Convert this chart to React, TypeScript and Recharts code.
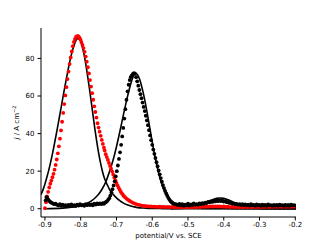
import React from 'react';
import { ComposedChart, Scatter, Line, XAxis, YAxis } from 'recharts';

// potential (V vs. SCE), current density j (A cm^-2)
const redPoints: [number, number][] = [
  [-0.9, 0.3], [-0.897, 3.5], [-0.894, 6.5], [-0.891, 9], [-0.888, 11.3], [-0.885, 13.3],
  [-0.882, 15], [-0.879, 16.8], [-0.876, 18.6], [-0.873, 20.8], [-0.87, 23.3], [-0.867, 26.2],
  [-0.864, 29.5], [-0.861, 33.2], [-0.858, 37.3], [-0.855, 41.7], [-0.852, 46.3], [-0.849, 51],
  [-0.846, 55.7], [-0.843, 60.3], [-0.84, 64.7], [-0.837, 69], [-0.834, 73], [-0.831, 77],
  [-0.828, 80.5], [-0.825, 83.7], [-0.822, 86.5], [-0.819, 88.8], [-0.816, 90.4], [-0.813, 91.4],
  [-0.81, 91.9], [-0.807, 91.8], [-0.804, 91.2], [-0.801, 90.2], [-0.798, 88.8], [-0.795, 87.2],
  [-0.792, 85.5], [-0.789, 83.5], [-0.786, 81], [-0.783, 78.3], [-0.78, 75.3], [-0.777, 72],
  [-0.774, 68.5], [-0.771, 65], [-0.768, 61.5], [-0.765, 58], [-0.762, 54.5], [-0.759, 51.5],
  [-0.756, 48.5], [-0.753, 45.5], [-0.75, 43.2], [-0.747, 41], [-0.744, 38.8], [-0.741, 36.6],
  [-0.738, 34.5], [-0.735, 32.5], [-0.733, 31], [-0.73, 29], [-0.727, 27.5], [-0.724, 26],
  [-0.721, 24.4], [-0.718, 22.8], [-0.715, 21.3], [-0.712, 19.8], [-0.709, 18.2], [-0.706, 16.6],
  [-0.703, 15.1], [-0.7, 13.7], [-0.697, 12.4], [-0.694, 11.2], [-0.691, 10.1], [-0.688, 9.1],
  [-0.685, 8.2], [-0.682, 7.4], [-0.679, 6.7], [-0.676, 6.1], [-0.672, 5.4], [-0.668, 4.8],
  [-0.664, 4.3], [-0.66, 3.8], [-0.655, 3.3], [-0.65, 2.9], [-0.645, 2.5], [-0.64, 2.2],
  [-0.634, 1.9], [-0.628, 1.7], [-0.622, 1.5], [-0.616, 1.35], [-0.61, 1.25], [-0.604, 1.2],
  [-0.598, 1.15], [-0.592, 1.1], [-0.586, 1.0], [-0.58, 1.05], [-0.574, 0.95], [-0.568, 1.0],
  [-0.562, 0.9], [-0.556, 1.0], [-0.55, 0.85], [-0.544, 0.95], [-0.538, 0.8], [-0.532, 0.9],
  [-0.526, 0.8], [-0.52, 0.9], [-0.514, 0.75], [-0.508, 0.85], [-0.502, 0.8], [-0.496, 0.9],
  [-0.49, 0.8], [-0.484, 0.95], [-0.478, 0.85], [-0.472, 1.0], [-0.466, 0.9], [-0.46, 1.1],
  [-0.454, 1.0], [-0.448, 1.2], [-0.442, 1.1], [-0.436, 1.3], [-0.43, 1.2], [-0.424, 1.3],
  [-0.418, 1.2], [-0.412, 1.3], [-0.406, 1.1], [-0.4, 1.2], [-0.394, 1.0], [-0.388, 1.1],
  [-0.382, 0.9], [-0.376, 1.0], [-0.37, 0.9], [-0.364, 1.0], [-0.358, 0.85], [-0.352, 0.95],
  [-0.346, 0.85], [-0.34, 1.0], [-0.334, 0.9], [-0.328, 1.0], [-0.322, 0.85], [-0.316, 1.0],
  [-0.31, 0.9], [-0.304, 1.05], [-0.298, 0.9], [-0.292, 1.0], [-0.286, 0.95], [-0.28, 1.1],
  [-0.274, 0.95], [-0.268, 1.05], [-0.262, 1.0], [-0.256, 1.1], [-0.25, 1.0], [-0.244, 1.15],
  [-0.238, 1.0], [-0.232, 1.1], [-0.226, 1.05], [-0.22, 1.15], [-0.214, 1.05], [-0.208, 1.2],
  [-0.202, 1.1],
];

const blackPoints: [number, number][] = [
  [-0.898, 4.5], [-0.896, 6.2], [-0.894, 5.8], [-0.891, 5], [-0.888, 4.2], [-0.885, 3.6],
  [-0.882, 3.2], [-0.878, 2.8], [-0.874, 2.4], [-0.87, 2.7], [-0.866, 2.1], [-0.862, 1.8],
  [-0.858, 2.4], [-0.854, 1.6], [-0.85, 2.2], [-0.846, 1.5], [-0.842, 1.9], [-0.838, 1.3],
  [-0.834, 2.0], [-0.83, 1.6], [-0.826, 2.3], [-0.822, 1.5], [-0.818, 1.9], [-0.814, 1.4],
  [-0.81, 2.2], [-0.806, 1.7], [-0.802, 2.5], [-0.798, 1.8], [-0.794, 2.1], [-0.79, 1.6],
  [-0.786, 2.4], [-0.782, 1.9], [-0.778, 2.6], [-0.774, 2.0], [-0.77, 2.3], [-0.766, 1.8],
  [-0.762, 2.7], [-0.758, 2.2], [-0.754, 2.9], [-0.75, 2.4], [-0.746, 2.8], [-0.742, 2.5],
  [-0.738, 3.0], [-0.735, 2.6], [-0.732, 3.2], [-0.729, 3.6], [-0.726, 4.1], [-0.723, 4.8],
  [-0.72, 5.6], [-0.717, 7.0], [-0.714, 8.6], [-0.711, 10.4], [-0.708, 12.4], [-0.705, 14.6],
  [-0.702, 17.2], [-0.699, 20], [-0.696, 23], [-0.693, 26.5], [-0.69, 30], [-0.687, 34],
  [-0.684, 38.5], [-0.681, 43], [-0.678, 48], [-0.675, 53], [-0.672, 58], [-0.669, 62.5],
  [-0.666, 66], [-0.663, 68.5], [-0.66, 70], [-0.657, 71], [-0.654, 71.8], [-0.651, 72.2],
  [-0.648, 71.9], [-0.645, 70], [-0.642, 67.8], [-0.639, 65.5], [-0.636, 63.2], [-0.633, 61],
  [-0.63, 58.8], [-0.627, 56.5], [-0.624, 54.2], [-0.621, 52], [-0.618, 49.5], [-0.615, 47],
  [-0.612, 44.5], [-0.609, 41.8], [-0.606, 39], [-0.603, 36.5], [-0.6, 34], [-0.597, 31.5],
  [-0.594, 29.2], [-0.591, 27], [-0.588, 24.8], [-0.585, 22.6], [-0.582, 20.4], [-0.579, 18.3],
  [-0.576, 16.3], [-0.573, 14.4], [-0.57, 12.6], [-0.567, 11], [-0.564, 9.5], [-0.561, 8.1],
  [-0.558, 6.9], [-0.555, 5.8], [-0.552, 4.9], [-0.549, 4.1], [-0.546, 3.5], [-0.543, 3.0],
  [-0.54, 2.7], [-0.536, 2.4], [-0.532, 2.3], [-0.528, 2.0], [-0.524, 2.6], [-0.52, 1.8],
  [-0.516, 2.4], [-0.512, 1.6], [-0.508, 2.2], [-0.504, 1.9], [-0.5, 2.7], [-0.496, 1.7],
  [-0.492, 2.3], [-0.488, 2.0], [-0.484, 2.8], [-0.48, 2.2], [-0.476, 2.5], [-0.472, 2.1],
  [-0.468, 2.9], [-0.464, 2.4], [-0.46, 3.0], [-0.456, 2.6], [-0.452, 3.3], [-0.448, 3.0],
  [-0.444, 3.6], [-0.44, 3.4], [-0.436, 3.9], [-0.432, 3.6], [-0.428, 4.2], [-0.424, 3.9],
  [-0.42, 4.4], [-0.416, 4.0], [-0.412, 4.5], [-0.408, 4.1], [-0.404, 4.3], [-0.4, 3.8],
  [-0.396, 4.0], [-0.392, 3.5], [-0.388, 3.6], [-0.384, 3.1], [-0.38, 3.2], [-0.376, 2.7],
  [-0.372, 2.9], [-0.368, 2.4], [-0.364, 2.6], [-0.36, 2.1], [-0.356, 2.5], [-0.352, 2.0],
  [-0.348, 2.4], [-0.344, 1.9], [-0.34, 2.3], [-0.336, 1.8], [-0.332, 2.2], [-0.328, 1.7],
  [-0.324, 2.4], [-0.32, 1.9], [-0.316, 2.1], [-0.312, 1.6], [-0.308, 2.3], [-0.304, 1.8],
  [-0.3, 2.0], [-0.296, 1.5], [-0.292, 2.2], [-0.288, 1.7], [-0.284, 2.0], [-0.28, 1.6],
  [-0.276, 2.3], [-0.272, 1.8], [-0.268, 1.9], [-0.264, 1.5], [-0.26, 2.1], [-0.256, 1.7],
  [-0.252, 2.0], [-0.248, 1.6], [-0.244, 2.2], [-0.24, 1.8], [-0.236, 1.9], [-0.232, 1.5],
  [-0.228, 2.1], [-0.224, 1.7], [-0.22, 2.0], [-0.216, 1.6], [-0.212, 2.2], [-0.208, 1.8],
  [-0.204, 1.9], [-0.2, 1.7],
];

// fitted peaks
const fitFirst: [number, number][] = [
  [-0.911, 7.5], [-0.905, 10.3], [-0.9, 13.2], [-0.895, 16.5], [-0.89, 20], [-0.885, 24],
  [-0.88, 28.3], [-0.875, 33], [-0.87, 38], [-0.865, 43], [-0.86, 48.3], [-0.855, 53.6],
  [-0.85, 59], [-0.845, 64.2], [-0.84, 69.3], [-0.835, 74.2], [-0.83, 78.8], [-0.825, 82.8],
  [-0.82, 86.2], [-0.815, 88.8], [-0.81, 90.4], [-0.807, 90.6], [-0.805, 90.4], [-0.8, 89],
  [-0.795, 85.8], [-0.79, 81.5], [-0.785, 76], [-0.78, 69.8], [-0.775, 63.2], [-0.77, 56.2],
  [-0.765, 49], [-0.76, 42], [-0.755, 35.6], [-0.75, 29.8], [-0.745, 24.8], [-0.74, 20.5],
  [-0.735, 17], [-0.73, 14.5], [-0.725, 12.5], [-0.72, 10.5], [-0.715, 9], [-0.71, 7.8],
  [-0.7, 5.8], [-0.69, 4.2], [-0.68, 3], [-0.67, 2.1], [-0.66, 1.5], [-0.65, 1.0],
  [-0.64, 0.6], [-0.625, 0.35], [-0.61, 0.2], [-0.58, 0.1], [-0.55, 0], [-0.198, 0],
];

const fitSecond: [number, number][] = [
  [-0.9, 0], [-0.85, 0.3], [-0.82, 1], [-0.8, 1.7], [-0.79, 2.3], [-0.78, 3.1],
  [-0.77, 4.2], [-0.76, 5.7], [-0.75, 7.7], [-0.74, 10.5], [-0.73, 14.2], [-0.72, 19.5],
  [-0.71, 25.5], [-0.7, 33], [-0.69, 41.5], [-0.68, 50.5], [-0.67, 59], [-0.66, 66.5],
  [-0.655, 69.5], [-0.65, 71.5], [-0.645, 72], [-0.64, 71], [-0.635, 68.8], [-0.63, 65.5],
  [-0.625, 61.5], [-0.62, 57], [-0.615, 52], [-0.61, 46.5], [-0.605, 41], [-0.6, 35.5],
  [-0.595, 30.3], [-0.59, 25.5], [-0.585, 21.2], [-0.58, 17.4], [-0.575, 14.2], [-0.57, 11.5],
  [-0.565, 9.3], [-0.56, 7.5], [-0.55, 4.9], [-0.54, 3.2], [-0.53, 2.2], [-0.52, 1.5],
  [-0.5, 0.8], [-0.48, 0.4], [-0.45, 0.2], [-0.4, 0.1], [-0.3, 0], [-0.198, 0],
];

const fitThird: [number, number][] = [
  [-0.55, 0], [-0.5, 0.4], [-0.48, 1.4], [-0.47, 2], [-0.46, 2.6], [-0.45, 3.3],
  [-0.44, 4.1], [-0.43, 4.9], [-0.42, 5.5], [-0.41, 5.7], [-0.4, 5.5], [-0.39, 4.9],
  [-0.38, 4.1], [-0.37, 3.2], [-0.36, 2.4], [-0.35, 1.7], [-0.34, 1.1], [-0.32, 0.5],
  [-0.3, 0.2], [-0.25, 0], [-0.198, 0],
];

const xTicks = [-0.9, -0.8, -0.7, -0.6, -0.5, -0.4, -0.3, -0.2];
const yTicks = [0, 20, 40, 60, 80];

const rows = (pts: [number, number][]) => pts.map(([v, j]) => ({ v, j }));

const dot = (color: string) => (props: any) => (
  <circle cx={props.cx} cy={props.cy} r={1.9} fill={color} />
);

const font = 'DejaVu Sans, sans-serif';

const App = () => {
  return (
    <div style={{ position: 'fixed', left: 0, top: 0, background: '#fff' }}>
      <ComposedChart width={328} height={245} margin={{ top: 28, right: 32, bottom: 0, left: 0 }}>
        <XAxis
          dataKey="v"
          type="number"
          domain={[-0.911, -0.198]}
          allowDataOverflow
          ticks={xTicks}
          height={28}
          tickSize={3.5}
          tickMargin={2}
          stroke="#000"
          tick={{ fontSize: 7, fill: '#000', fontFamily: font }}
          tickLine={{ stroke: '#000' }}
          label={{ value: 'potential/V vs. SCE', position: 'insideBottom', offset: 7, fontSize: 7, fill: '#000', fontFamily: font }}
        />
        <YAxis
          dataKey="j"
          type="number"
          domain={[-4.4, 96.2]}
          allowDataOverflow
          ticks={yTicks}
          width={41}
          tickSize={3.5}
          tickMargin={3}
          stroke="#000"
          tick={{ fontSize: 7, fill: '#000', fontFamily: font }}
          tickLine={{ stroke: '#000' }}
          label={{
            content: () => (
              <text
                x={17}
                y={122.5}
                transform="rotate(-90 17 122.5)"
                textAnchor="middle"
                dominantBaseline="central"
                fontSize={7}
                fontFamily={font}
                fill="#000"
              >
                <tspan fontStyle="italic">j</tspan>
                <tspan> / A cm</tspan>
                <tspan fontSize={5} dy={-3}>−2</tspan>
              </text>
            ),
          }}
        />
        <Scatter data={rows(redPoints)} dataKey="j" fill="#ff0000" shape={dot('#ff0000')} isAnimationActive={false} />
        <Scatter data={rows(blackPoints)} dataKey="j" fill="#000" shape={dot('#000')} isAnimationActive={false} />
        <Line data={rows(fitFirst)} dataKey="j" type="monotone" stroke="#000" strokeWidth={1.6} dot={false} isAnimationActive={false} />
        <Line data={rows(fitSecond)} dataKey="j" type="monotone" stroke="#000" strokeWidth={1.6} dot={false} isAnimationActive={false} />
        <Line data={rows(fitThird)} dataKey="j" type="monotone" stroke="#000" strokeWidth={1.6} dot={false} isAnimationActive={false} />
      </ComposedChart>
    </div>
  );
};

export default App;
